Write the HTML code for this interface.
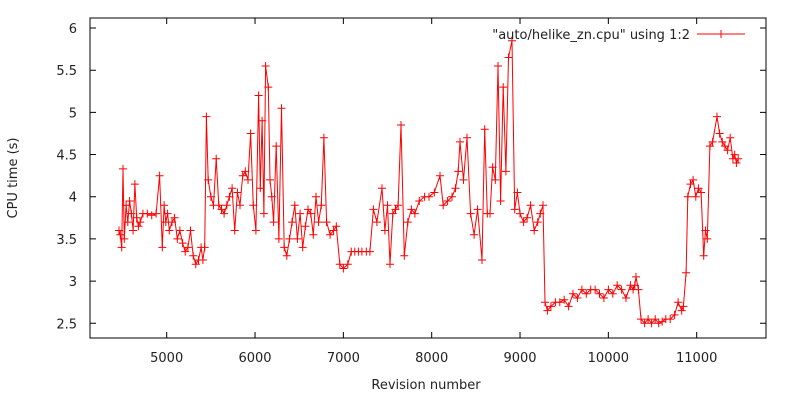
<!DOCTYPE html>
<html><head><meta charset="utf-8"><style>
body{margin:0;background:#fff}
svg{display:block;font-family:"DejaVu Sans","Liberation Sans",sans-serif;font-size:13px;fill:#222}
</style></head><body>
<svg id="chart" width="800" height="400" viewBox="0 0 800 400" xmlns="http://www.w3.org/2000/svg">
<g id="axes"></g>
<g id="series"></g>
<text transform="translate(17,178) rotate(-90)" text-anchor="middle">CPU time (s)</text>
<text x="426" y="389" text-anchor="middle">Revision number</text>
<g>
<text x="690" y="39" text-anchor="end">"auto/helike_zn.cpu" using 1:2</text>
<line x1="697" y1="34" x2="745" y2="34" stroke="#f00" stroke-width="1"/>
<path d="M717,34h8M721,30v8" stroke="#f00" stroke-width="1"/>
</g>
</svg>
<script>
const revisions=[
4460,4475,4490,4505,4520,4540,4560,4580,4600,4620,
4640,4660,4680,4700,4730,4780,4830,4880,4920,4950,
4970,4990,5010,5030,5060,5090,5120,5150,5180,5210,
5240,5270,5300,5330,5360,5390,5410,5430,5450,5470,
5500,5530,5560,5590,5620,5650,5680,5710,5740,5770,
5800,5830,5860,5890,5920,5950,5980,6010,6040,6060,
6080,6100,6120,6150,6170,6190,6210,6240,6270,6300,
6330,6360,6390,6420,6450,6480,6510,6540,6570,6600,
6630,6660,6690,6720,6750,6780,6810,6850,6890,6920,
6960,7000,7050,7090,7130,7170,7210,7260,7300,7340,
7380,7437,7470,7500,7528,7560,7590,7620,7652,7690,
7730,7770,7810,7860,7920,7970,8030,8094,8130,8180,
8230,8270,8300,8320,8360,8400,8440,8480,8520,8570,
8600,8630,8660,8690,8720,8751,8780,8810,8840,8870,
8909,8940,8970,9000,9040,9080,9120,9160,9200,9230,
9260,9283,9310,9350,9400,9450,9500,9550,9600,9650,
9700,9750,9800,9850,9900,9950,10000,10050,10100,10150,
10200,10250,10280,10300,10313,10340,10370,10410,10450,10490,
10530,10570,10610,10650,10700,10750,10790,10830,10850,10880,
10900,10930,10960,10990,11020,11050,11080,11100,11120,11150,
11180,11230,11260,11290,11320,11350,11380,11410,11430,11450,
11470];
const cpuTimes=[
3.6,3.55,3.4,4.33,3.5,3.9,3.7,3.95,3.8,3.6,
4.15,3.75,3.65,3.7,3.8,3.8,3.78,3.8,4.25,3.4,
3.9,3.7,3.8,3.6,3.7,3.75,3.5,3.6,3.45,3.35,
3.4,3.6,3.3,3.2,3.25,3.4,3.25,3.4,4.95,4.2,
4.0,3.9,4.45,3.9,3.85,3.8,3.9,4.0,4.1,3.6,
4.05,3.9,4.25,4.3,4.2,4.75,3.9,3.6,5.2,4.1,
4.9,3.8,5.55,5.3,4.2,4.0,3.7,4.6,3.5,5.05,
3.4,3.3,3.5,3.7,3.9,3.5,3.8,3.4,3.65,3.85,
3.8,3.55,4.0,3.7,3.9,4.7,3.7,3.55,3.6,3.65,
3.2,3.15,3.2,3.35,3.35,3.35,3.35,3.35,3.35,3.85,
3.7,4.1,3.6,3.9,3.2,3.8,3.85,3.9,4.85,3.3,
3.7,3.85,3.8,3.95,4.0,4.0,4.05,4.25,3.9,3.95,
4.0,4.1,4.3,4.65,4.2,4.7,3.8,3.55,3.85,3.25,
4.8,3.8,3.8,4.35,4.2,5.55,3.95,5.3,4.3,5.65,
5.85,3.85,4.05,3.8,3.7,3.75,3.9,3.6,3.7,3.8,
3.9,2.75,2.65,2.7,2.75,2.75,2.78,2.7,2.85,2.8,
2.9,2.85,2.9,2.9,2.85,2.8,2.9,2.85,2.95,2.9,
2.8,2.95,2.9,2.95,3.05,2.9,2.55,2.5,2.55,2.5,
2.55,2.5,2.52,2.55,2.55,2.6,2.75,2.65,2.7,3.1,
4.0,4.15,4.2,4.0,4.1,4.05,3.3,3.6,3.5,4.6,
4.65,4.95,4.75,4.65,4.6,4.55,4.7,4.45,4.5,4.4,
4.45];
const xTicks=[5000,6000,7000,8000,9000,10000,11000];
const yTicks=[2.5,3,3.5,4,4.5,5,5.5,6];
const yTickLabels=["2.5","3","3.5","4","4.5","5","5.5","6"];
const L=90,R=766,T=18,B=338;
function xs(v){return 166.7+(v-5000)*0.08833;}
function ys(v){return 323.3-(v-2.5)*84.37;}
const NS="http://www.w3.org/2000/svg";
const ax=document.getElementById('axes');
function mk(tag,attrs,parent){const e=document.createElementNS(NS,tag);for(const k in attrs)e.setAttribute(k,attrs[k]);parent.appendChild(e);return e;}
const frame=mk('rect',{x:L,y:T,width:R-L,height:B-T,fill:'none',stroke:'#000','stroke-width':1},ax);


xTicks.forEach(v=>{const x=xs(v);
 const t=mk('path',{d:`M${x},${B}v-6M${x},${T}v6`,stroke:'#000','stroke-width':1},ax);
 
 
 const l=mk('text',{x:x,y:B+24,'text-anchor':'middle'},ax);l.textContent=String(v);
 
 });
yTicks.forEach((v,i)=>{const y=ys(v);
 const t=mk('path',{d:`M${L},${y}h6M${R},${y}h-6`,stroke:'#000','stroke-width':1},ax);
 
 
 const l=mk('text',{x:L-13,y:y+5,'text-anchor':'end'},ax);l.textContent=yTickLabels[i];
 
 });
const sg=document.getElementById('series');
const n=Math.min(revisions.length,cpuTimes.length);
let d='';for(let i=0;i<n;i++){d+=(i?'L':'M')+xs(revisions[i]).toFixed(1)+','+ys(cpuTimes[i]).toFixed(1);}
const line=mk('path',{d:d,fill:'none',stroke:'#f00','stroke-width':1},sg);


let m='';for(let i=0;i<n;i++){const x=xs(revisions[i]),y=ys(cpuTimes[i]);m+=`M${(x-4).toFixed(1)},${y.toFixed(1)}h8M${x.toFixed(1)},${(y-4).toFixed(1)}v8`;}
const marks=mk('path',{d:m,fill:'none',stroke:'#f00','stroke-width':1},sg);


</script>
</body></html>
